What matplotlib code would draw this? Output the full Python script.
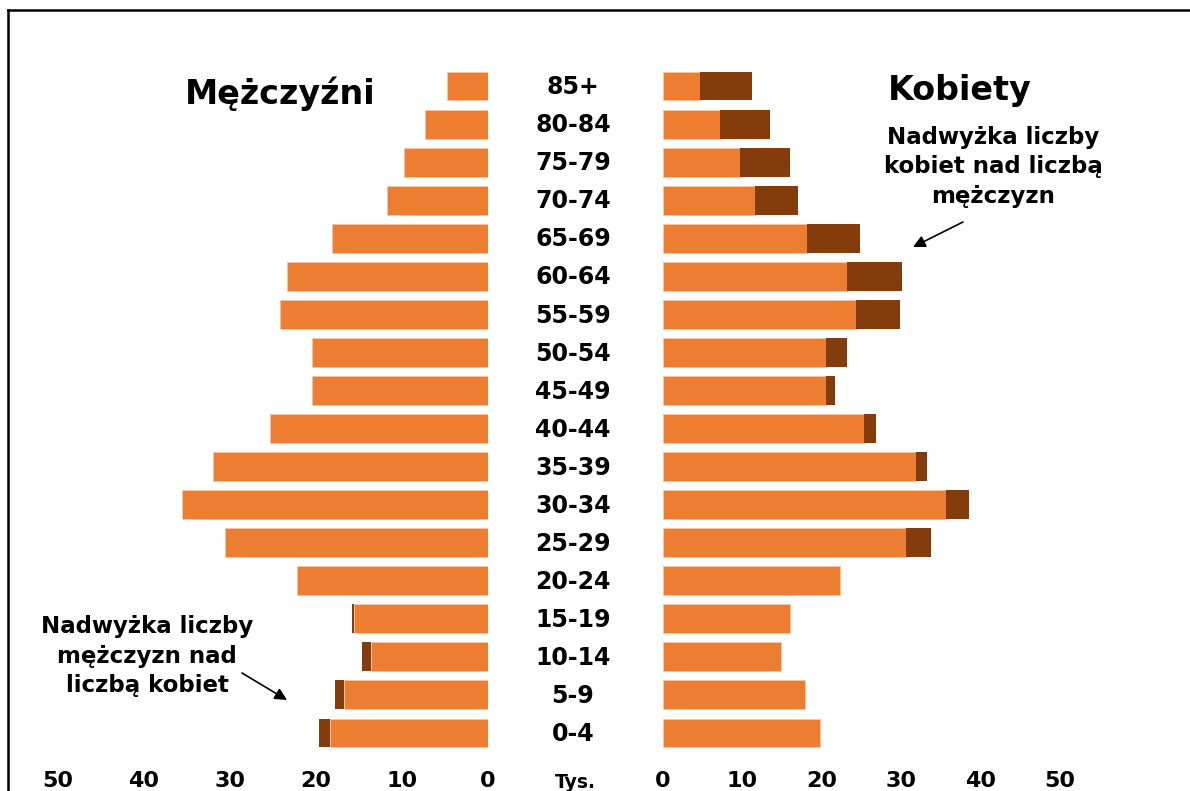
import matplotlib.pyplot as plt
from matplotlib.lines import Line2D
from matplotlib import transforms

# age groups, bottom to top
ages = ['0-4', '5-9', '10-14', '15-19', '20-24', '25-29', '30-34', '35-39', '40-44',
        '45-49', '50-54', '55-59', '60-64', '65-69', '70-74', '75-79', '80-84', '85+']

# men, thousands (total bar and dark "excess" part at its end)
men = [19.7, 17.8, 14.7, 15.8, 22.2, 30.6, 35.6, 32.0, 25.3,
       20.5, 20.5, 24.2, 23.4, 18.1, 11.7, 9.8, 7.3, 4.8]
men_excess = [1.3, 1.0, 1.1, 0.2, 0, 0, 0, 0, 0,
              0, 0, 0, 0, 0, 0, 0, 0, 0]

# women, thousands
women = [19.8, 17.9, 14.9, 16.0, 22.3, 33.8, 38.5, 33.2, 26.8,
         21.7, 23.2, 29.8, 30.1, 24.8, 17.0, 16.0, 13.5, 11.2]
women_excess = [0, 0, 0, 0, 0, 3.2, 2.9, 1.3, 1.5,
                1.2, 2.7, 5.5, 6.9, 6.7, 5.4, 6.3, 6.3, 6.5]

ticks = [0, 10, 20, 30, 40, 50]

orange = '#ED7D31'
brown = '#843C0C'
W, H = 1190, 791

fig = plt.figure(figsize=(W / 100, H / 100), dpi=100)
plt.rcParams['font.family'] = ['DejaVu Sans']

# axes placed in pixel terms: left side 8.6 px per unit, right side 7.94 px per unit
bottom, top = 752, 67
ax_m = fig.add_axes([(488 - 55 * 8.6) / W, (H - bottom) / H, 55 * 8.6 / W, (bottom - top) / H])
ax_f = fig.add_axes([663 / W, (H - bottom) / H, 55 * 7.94 / W, (bottom - top) / H])

y = list(range(len(ages)))
bh = 0.76

men_base = [m - e for m, e in zip(men, men_excess)]
women_base = [w - e for w, e in zip(women, women_excess)]

ax_m.barh(y, men_base, height=bh, color=orange, edgecolor='#F6C6A6', linewidth=0.6)
ax_m.barh(y, men_excess, left=men_base, height=bh, color=brown, linewidth=0)
ax_f.barh(y, women_base, height=bh, color=orange, edgecolor='#F6C6A6', linewidth=0.6)
ax_f.barh(y, women_excess, left=women_base, height=bh, color=brown, linewidth=0)

ax_m.set_xlim(55, 0)
ax_f.set_xlim(0, 55)
for ax in (ax_m, ax_f):
    ax.set_ylim(-0.5, len(ages) - 0.5)
    ax.set_yticks([])
    ax.set_xticks(ticks)
    ax.set_xticklabels([str(t) for t in ticks], fontsize=16, fontweight='bold')
    ax.tick_params(axis='x', length=0, pad=14)
    for s in ax.spines.values():
        s.set_visible(False)
    ax.patch.set_alpha(0)

# age labels in the middle
trans = transforms.blended_transform_factory(fig.transFigure, ax_f.transData)
for i, a in enumerate(ages):
    ax_f.text(573 / W, i - 0.03, a, transform=trans, ha='center', va='center',
              fontsize=17, fontweight='bold', clip_on=False)

fig.text(575 / W, 1 - 782 / H, 'Tys.', ha='center', va='center', fontsize=13.5, fontweight='bold')

fig.text(280 / W, 1 - 104 / H, 'Mężczyźni', ha='center', va='baseline', fontsize=24, fontweight='bold')
fig.text(960 / W, 1 - 100 / H, 'Kobiety', ha='center', va='baseline', fontsize=24, fontweight='bold')

fig.text(993 / W, 1 - 167 / H, 'Nadwyżka liczby\nkobiet nad liczbą\nmężczyzn',
         ha='center', va='center', multialignment='center', fontsize=16.5,
         fontweight='bold', linespacing=1.38)
fig.text(147 / W, 1 - 656 / H, 'Nadwyżka liczby\nmężczyzn nad\nliczbą kobiet',
         ha='center', va='center', multialignment='center', fontsize=16.5,
         fontweight='bold', linespacing=1.38)

arrow = dict(arrowstyle='-|>', color='black', lw=1.2, mutation_scale=18, shrinkA=0, shrinkB=0)
fig.add_artist(plt.Annotation('', xy=(913, H - 247), xytext=(963, H - 222),
                              xycoords='figure pixels', arrowprops=arrow))
fig.add_artist(plt.Annotation('', xy=(287, H - 700), xytext=(242, H - 673),
                              xycoords='figure pixels', arrowprops=arrow))

# frame lines (top and left)
fig.add_artist(Line2D([8 / W, 1], [1 - 10 / H, 1 - 10 / H], transform=fig.transFigure, color='black', lw=1.8))
fig.add_artist(Line2D([8 / W, 8 / W], [0, 1 - 10 / H], transform=fig.transFigure, color='black', lw=1.8))

fig.savefig('out.png', dpi=100)
